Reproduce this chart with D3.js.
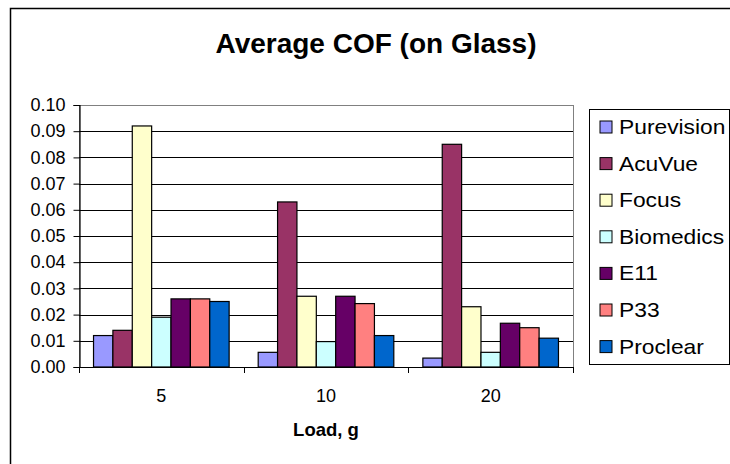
<!DOCTYPE html>
<html>
<head>
<meta charset="utf-8">
<script src="https://cdn.jsdelivr.net/npm/d3@7"></script>
<style>
  html, body { margin: 0; padding: 0; background: #fff; }
  svg { display: block; font-family: "Liberation Sans", Arial, sans-serif; }
</style>
</head>
<body>
<svg id="chart" width="730" height="464"></svg>
<script>
// Average coefficient of friction on glass, by load
const loads = ["5", "10", "20"];
const lenses = ["Purevision", "AcuVue", "Focus", "Biomedics", "E11", "P33", "Proclear"];
const purevision = [0.012, 0.0056, 0.0034];
const acuvue     = [0.014, 0.063, 0.085];
const focus      = [0.092, 0.027, 0.023];
const biomedics  = [0.019, 0.0097, 0.0056];
const e11        = [0.026, 0.027, 0.0167];
const p33        = [0.026, 0.0242, 0.015];
const proclear   = [0.025, 0.012, 0.011];
const yTicks = [0, 0.01, 0.02, 0.03, 0.04, 0.05, 0.06, 0.07, 0.08, 0.09, 0.10];
const colors = ["#9999FF", "#993366", "#FFFFCC", "#CCFFFF", "#660066", "#FF8080", "#0066CC"];

const seriesValues = [purevision, acuvue, focus, biomedics, e11, p33, proclear];

const svg = d3.select("#chart");

// outer chart frame
svg.append("rect")
  .attr("x", 10.5).attr("y", 8.5)
  .attr("width", 760).attr("height", 500)
  .attr("fill", "#fff").attr("stroke", "#000").attr("stroke-width", 1.5);

const plot = { left: 79, right: 573, top: 105, bottom: 367 };

const x0 = d3.scaleBand().domain(loads).range([plot.left, plot.right]).padding(0);
const x1 = d3.scaleBand().domain(lenses).range([0, x0.bandwidth()])
  .paddingInner(0).paddingOuter(0.75);
const y = d3.scaleLinear().domain([0, 0.1]).range([plot.bottom, plot.top]);

// plot area
svg.append("rect")
  .attr("x", plot.left + 0.5).attr("y", plot.top + 0.5)
  .attr("width", plot.right - plot.left).attr("height", plot.bottom - plot.top)
  .attr("fill", "#fff").attr("stroke", "#808080").attr("stroke-width", 1);

// horizontal gridlines
svg.append("g").selectAll("line")
  .data(yTicks.filter(t => t > 0 && t < 0.1))
  .join("line")
  .attr("x1", plot.left).attr("x2", plot.right)
  .attr("y1", d => Math.round(y(d)) + 0.5).attr("y2", d => Math.round(y(d)) + 0.5)
  .attr("stroke", "#000").attr("stroke-width", 1);

// bars
const groups = svg.append("g").selectAll("g")
  .data(loads)
  .join("g")
  .attr("transform", d => `translate(${x0(d)},0)`);

groups.selectAll("rect")
  .data((d, i) => lenses.map((name, s) => ({ name, s, v: seriesValues[s][i] })))
  .join("rect")
  .attr("x", d => x1(d.name))
  .attr("y", d => y(d.v))
  .attr("width", x1.bandwidth())
  .attr("height", d => y(0) - y(d.v))
  .attr("fill", d => colors[d.s])
  .attr("stroke", "#000").attr("stroke-width", 1.2);

// y axis
const yAxis = d3.axisLeft(y).tickValues(yTicks).tickFormat(d3.format(".2f")).tickSize(6).tickPadding(8);
const gy = svg.append("g").attr("transform", `translate(${plot.left + 0.5},0)`).call(yAxis);
gy.select(".domain").attr("stroke", "#000").attr("stroke-width", 1.2);
gy.selectAll(".tick line").attr("stroke", "#000");
gy.selectAll(".tick text").attr("font-size", 18).attr("fill", "#000")
  .attr("font-family", "Liberation Sans, Arial, sans-serif");

// x axis: ticks at category boundaries, labels centered
const gx = svg.append("g");
gx.append("line")
  .attr("x1", plot.left).attr("x2", plot.right)
  .attr("y1", plot.bottom + 0.5).attr("y2", plot.bottom + 0.5)
  .attr("stroke", "#000").attr("stroke-width", 1.2);
const bounds = loads.map(d => x0(d)).concat([x0(loads[loads.length - 1]) + x0.bandwidth()]);
gx.selectAll("line.tk")
  .data(bounds)
  .join("line").attr("class", "tk")
  .attr("x1", d => Math.round(d) + 0.5).attr("x2", d => Math.round(d) + 0.5)
  .attr("y1", plot.bottom).attr("y2", plot.bottom + 6)
  .attr("stroke", "#000");
gx.selectAll("text")
  .data(loads)
  .join("text")
  .attr("x", d => x0(d) + x0.bandwidth() / 2)
  .attr("y", 402)
  .attr("text-anchor", "middle")
  .attr("font-size", 18)
  .text(d => d);

// axis title
svg.append("text")
  .attr("x", (plot.left + plot.right) / 2).attr("y", 436)
  .attr("text-anchor", "middle")
  .attr("font-size", 18.5).attr("font-weight", "bold")
  .text("Load, g");

// chart title
svg.append("text")
  .attr("x", 376).attr("y", 53)
  .attr("text-anchor", "middle")
  .attr("font-size", 28).attr("font-weight", "bold")
  .text("Average COF (on Glass)");

// legend
const legend = svg.append("g");
legend.append("rect")
  .attr("x", 589.5).attr("y", 109.5)
  .attr("width", 140).attr("height", 255)
  .attr("fill", "#fff").attr("stroke", "#000").attr("stroke-width", 1);

const items = legend.selectAll("g.item")
  .data(lenses)
  .join("g").attr("class", "item")
  .attr("transform", (d, i) => `translate(0,${127 + i * 36.6})`);
items.append("rect")
  .attr("x", 600).attr("y", -6)
  .attr("width", 12).attr("height", 12)
  .attr("fill", (d, i) => colors[i])
  .attr("stroke", "#000").attr("stroke-width", 1);
items.append("text")
  .attr("transform", "translate(619,7) scale(1.14,1)")
  .attr("font-size", 20)
  .text(d => d);
</script>
</body>
</html>
